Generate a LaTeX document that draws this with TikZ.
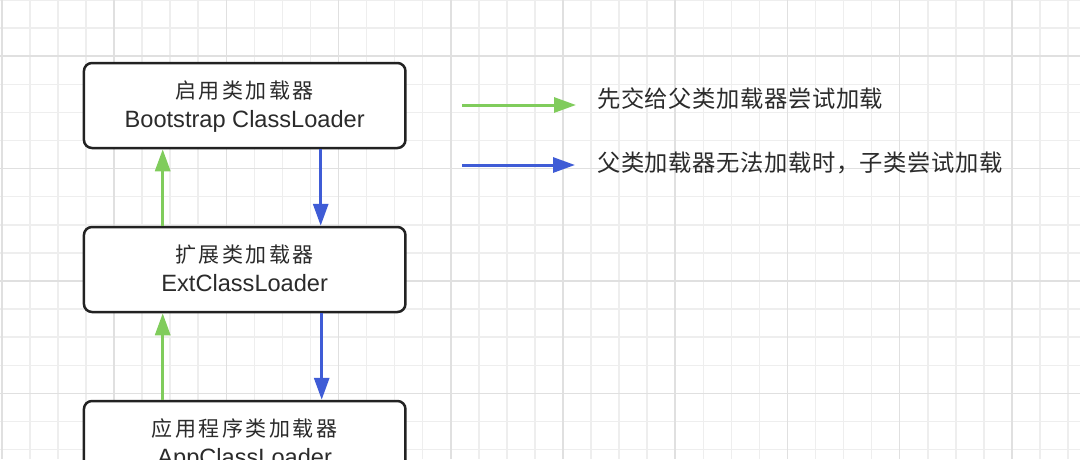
\documentclass[tikz,border=0pt]{standalone}
\usepackage{fontspec}
\setmainfont{Liberation Sans}
\newfontfamily\cjkbox[LetterSpace=12]{Noto Sans CJK SC}
\newfontfamily\cjkleg[LetterSpace=2.5]{Noto Sans CJK SC}
\usetikzlibrary{arrows.meta}
\definecolor{gridminor}{HTML}{EEEEEE}
\definecolor{gridmajor}{HTML}{E0E0E0}
\definecolor{arrgreen}{HTML}{80CC5C}
\definecolor{arrblue}{HTML}{3F5CD6}
\definecolor{txt}{HTML}{2B2B2B}
\definecolor{border}{HTML}{222222}
\begin{document}
\begin{tikzpicture}[x=1pt,y=-1pt,
  loader/.style={draw=border, line width=2.5pt, rounded corners=8pt, fill=white,
    minimum width=321.5pt, minimum height=85pt, inner sep=0pt},
  cjkline/.style={anchor=base, text=txt, inner sep=0pt, font=\cjkbox\fontsize{21}{25}\selectfont},
  latline/.style={anchor=base, text=txt, inner sep=0pt, font=\fontsize{23.6}{27}\selectfont},
  legtext/.style={anchor=base west, text=txt, inner sep=0pt, font=\cjkleg\fontsize{23.3}{28}\selectfont},
  garrow/.style={draw=arrgreen, line width=3pt, -{Triangle[length=22pt,width=15pt]}},
  barrow/.style={draw=arrblue, line width=3pt, -{Triangle[length=22pt,width=15pt]}}]
\useasboundingbox (0,0) rectangle (1080,459);
\clip (0,0) rectangle (1080,459);
\fill[white] (0,0) rectangle (1080,459);
% grid
\foreach \k in {0,...,38}{\draw[gridminor, line width=1.5pt] ({1.8+28.06*\k},0) -- ({1.8+28.06*\k},459);}
\foreach \k in {0,...,16}{\draw[gridminor, line width=1.5pt] (0,{28.1*\k}) -- (1080,{28.1*\k});}
\foreach \k in {0,4,...,36}{\draw[gridmajor, line width=1.5pt] ({1.8+28.06*\k},0) -- ({1.8+28.06*\k},459);}
\foreach \k in {2,6,10,14}{\draw[gridmajor, line width=1.5pt] (0,{28.1*\k}) -- (1080,{28.1*\k});}
% boxes
\node[loader] (b1) at (244.7,105.5) {};
\node[loader] (b2) at (244.7,269.5) {};
\node[loader] (b3) at (244.7,443.5) {};
\node[cjkline] (b1c) at (244.7,98.5) {启用类加载器};
\node[latline] (b1l) at (244.7,127) {Bootstrap ClassLoader};
\node[cjkline] (b2c) at (244.7,262.5) {扩展类加载器};
\node[latline] (b2l) at (244.7,291) {ExtClassLoader};
\node[cjkline] (b3c) at (244.7,436.5) {应用程序类加载器};
\node[latline] (b3l) at (244.7,465) {AppClassLoader};
% connectors
\draw[garrow] ([xshift=-82pt]b2.north) -- ([xshift=-82pt]b1.south);
\draw[barrow] ([xshift=76pt]b1.south) -- ([xshift=76pt]b2.north);
\draw[garrow] ([xshift=-82pt]b3.north) -- ([xshift=-82pt]b2.south);
\draw[barrow] ([xshift=77pt]b2.south) -- ([xshift=77pt]b3.north);
% legend
\coordinate (g1) at (462,105);
\coordinate (g2) at (576,105);
\coordinate (u1) at (462,165);
\coordinate (u2) at (575,165);
\draw[garrow] (g1) -- (g2);
\draw[barrow] (u1) -- (u2);
\node[legtext] (lg) at (597,107) {先交给父类加载器尝试加载};
\node[legtext] (lb) at (597,171) {父类加载器无法加载时，子类尝试加载};
\end{tikzpicture}
\end{document}
